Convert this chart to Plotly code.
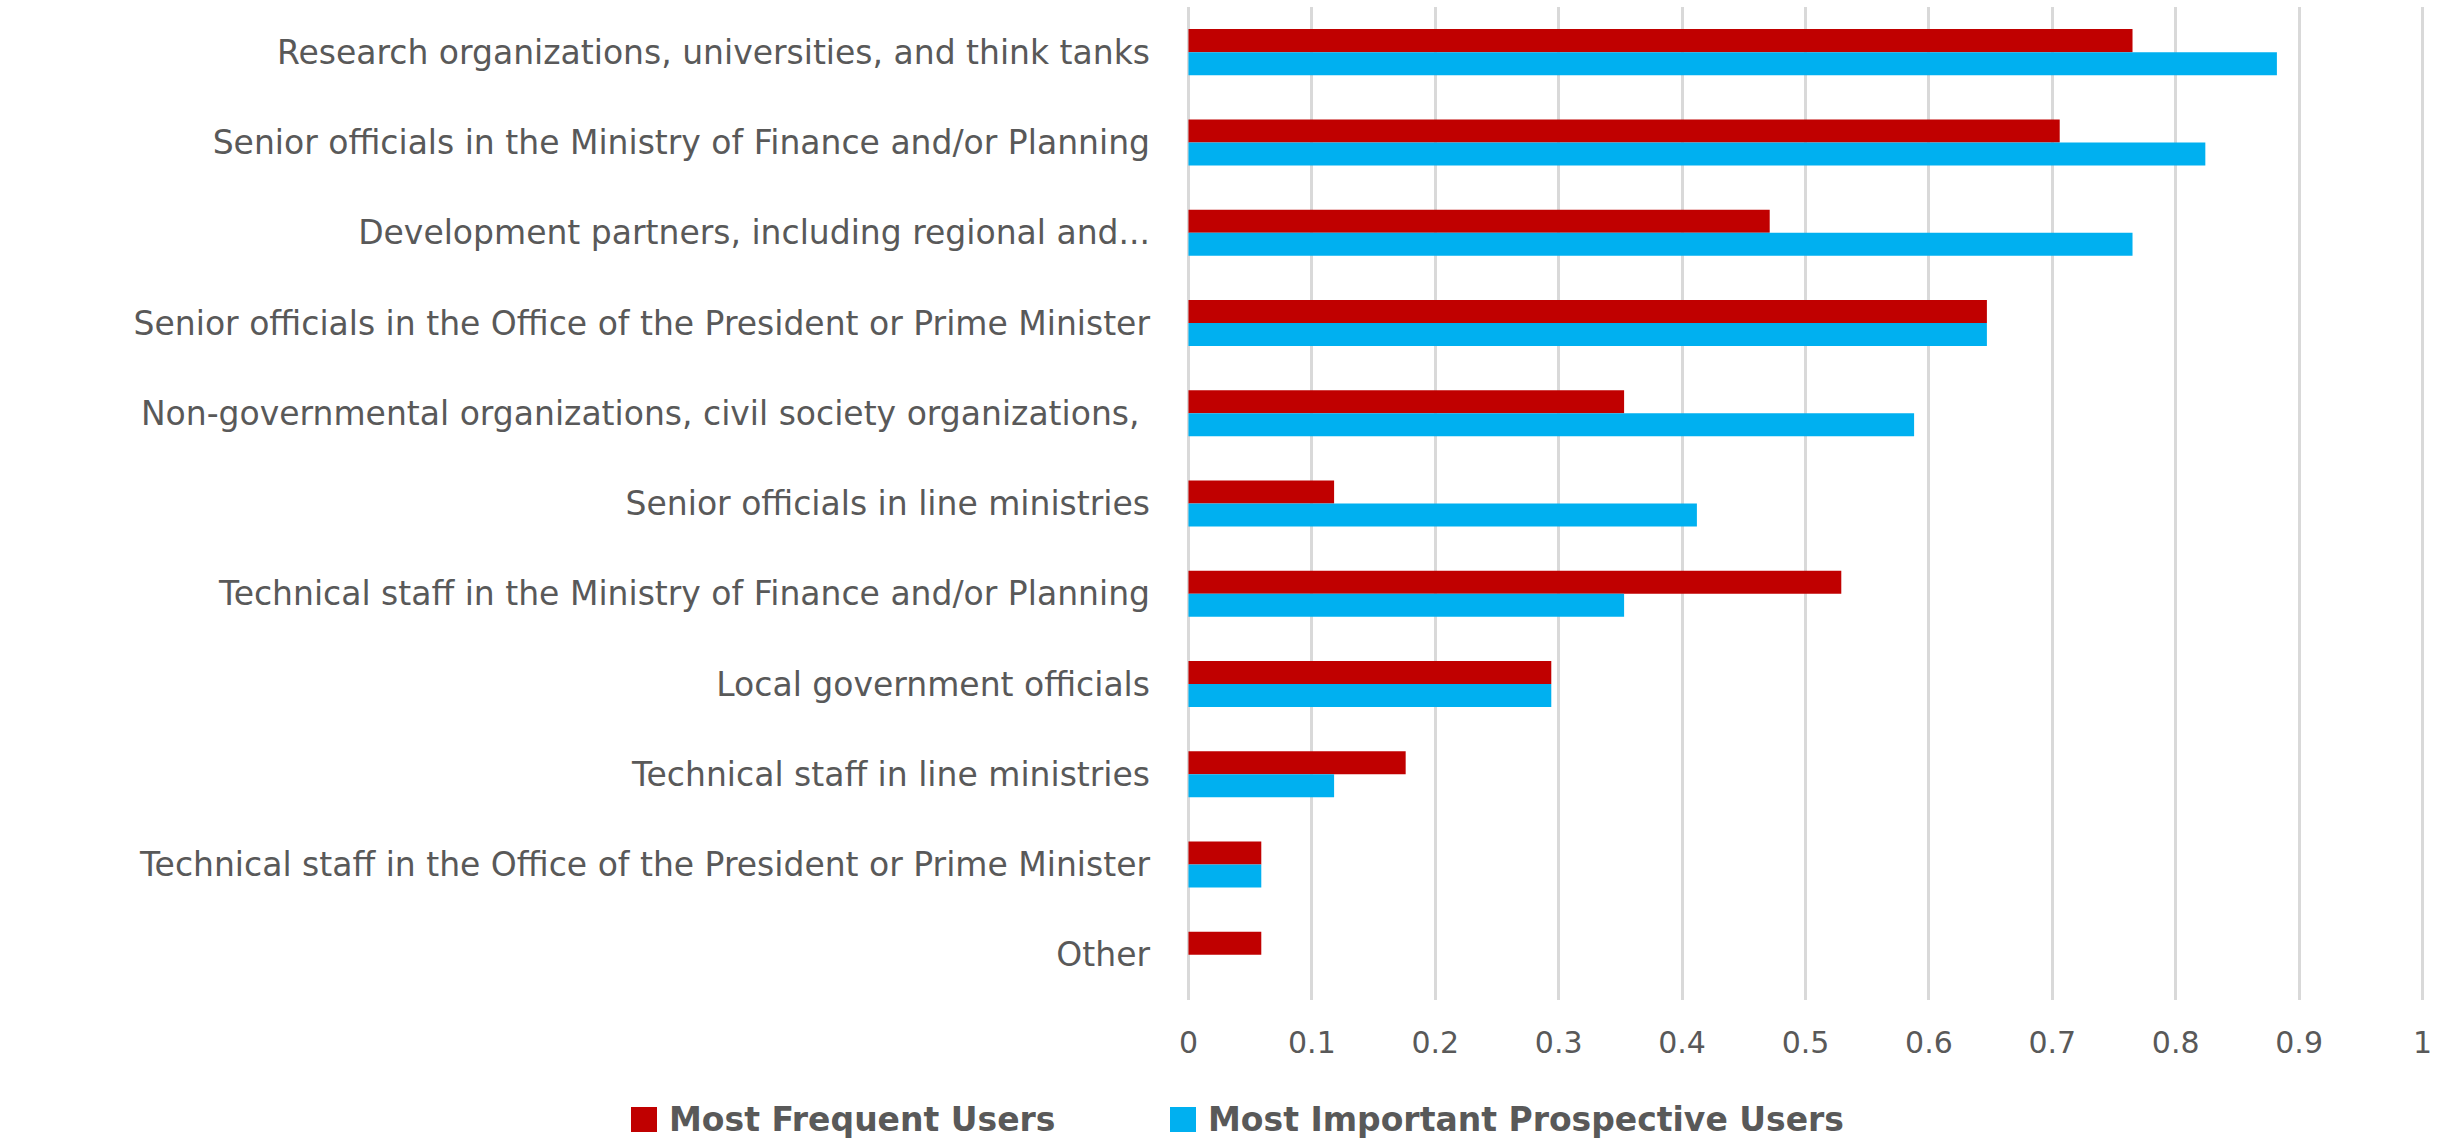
import plotly.graph_objects as go

# Survey shares by user group (fraction of respondents)
categories = [
    "Research organizations, universities, and think tanks",
    "Senior officials in the Ministry of Finance and/or Planning",
    "Development partners, including regional and...",
    "Senior officials in the Office of the President or Prime Minister",
    "Non-governmental organizations, civil society organizations, ",
    "Senior officials in line ministries",
    "Technical staff in the Ministry of Finance and/or Planning",
    "Local government officials",
    "Technical staff in line ministries",
    "Technical staff in the Office of the President or Prime Minister",
    "Other",
]
most_frequent = [0.765, 0.706, 0.471, 0.647, 0.353, 0.118, 0.529, 0.294, 0.176, 0.059, 0.059]
most_important = [0.882, 0.824, 0.765, 0.647, 0.588, 0.412, 0.353, 0.294, 0.118, 0.059, 0.0]
series_names = ["Most Frequent Users", "Most Important Prospective Users"]
series_colors = ["#C00000", "#00B0F0"]
x_ticks = [0, 0.1, 0.2, 0.3, 0.4, 0.5, 0.6, 0.7, 0.8, 0.9, 1]

W, H = 2460, 1138
ML, MR, MT, MB = 1187, 36, 7, 138
PW, PH = W - ML - MR, H - MT - MB
TEXT = "#595959"
FONT = "DejaVu Sans"

fig = go.Figure()
for name, vals, col in zip(series_names, [most_frequent, most_important], series_colors):
    fig.add_trace(go.Bar(
        y=categories, x=vals, name=name, orientation="h",
        marker=dict(color=col, line=dict(width=0)),
        showlegend=False,
    ))

fig.update_layout(
    width=W, height=H,
    margin=dict(l=ML, r=MR, t=MT, b=MB, autoexpand=False),
    paper_bgcolor="white", plot_bgcolor="white",
    barmode="group", bargap=0.49, bargroupgap=0,
    font=dict(family=FONT, color=TEXT),
    xaxis=dict(
        range=[-0.0012, 1.0012], tickvals=x_ticks, ticktext=[f"{v:g}" for v in x_ticks],
        showgrid=True, gridcolor="#D9D9D9", gridwidth=3,
        zeroline=False, showline=False, ticks="",
        tickfont=dict(size=30, color=TEXT, family=FONT),
        ticklabelstandoff=22, fixedrange=True,
    ),
    yaxis=dict(
        autorange="reversed", showgrid=False, zeroline=False, showline=False,
        ticks="", tickfont=dict(size=33, color=TEXT, family=FONT),
        ticklabelstandoff=36,
    ),
)

# Legend drawn below the plot: coloured squares followed by bold series names
def px_x(px):
    return (px - ML) / PW

def px_y(py):
    return (H - MB - py) / PH

legend_left = [631, 1170]
for left, name, col in zip(legend_left, series_names, series_colors):
    fig.add_shape(type="rect", xref="paper", yref="paper",
                  x0=px_x(left), x1=px_x(left + 26), y0=px_y(1132), y1=px_y(1107),
                  fillcolor=col, line=dict(width=0))
    fig.add_annotation(xref="paper", yref="paper", x=px_x(left + 36), y=px_y(1119),
                       xanchor="left", yanchor="middle", showarrow=False,
                       text=f"<b>{name}</b>",
                       font=dict(size=33, color=TEXT, family=FONT))

fig.write_html("out.html")
